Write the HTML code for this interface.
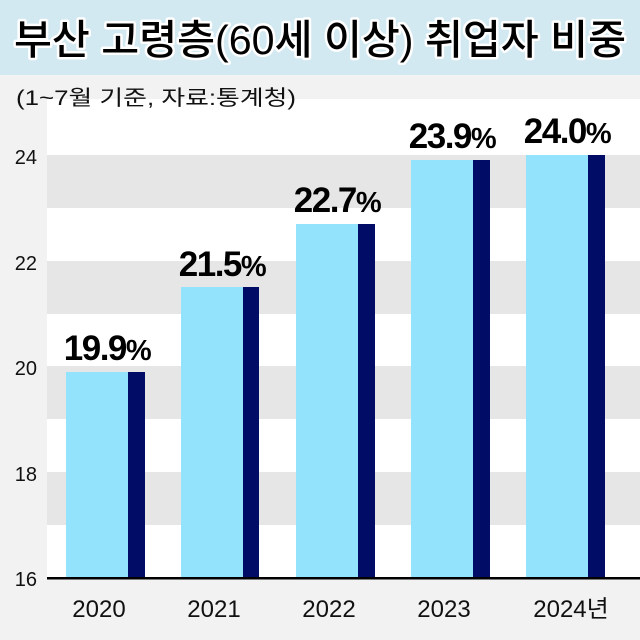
<!DOCTYPE html>
<html><head><meta charset="utf-8"><style>
html,body{margin:0;padding:0;background:#f2f2f2;}
svg{display:block;}
</style></head><body>
<svg width="640" height="640" xmlns="http://www.w3.org/2000/svg" font-family="'Liberation Sans','Noto Sans CJK KR',sans-serif">
<rect x="0" y="0" width="640" height="640" fill="#f2f2f2"/>
<rect x="0" y="0" width="640" height="75" fill="#d3e9f1"/>
<text x="14" y="54" font-size="41" font-weight="500" textLength="612" lengthAdjust="spacingAndGlyphs" fill="#000" stroke="#fff" stroke-width="5" paint-order="stroke" stroke-linejoin="round">부산 고령층(60세 이상) 취업자 비중</text>
<rect x="47" y="99" width="593" height="479" fill="#fff"/>
<text x="16" y="105" font-size="21" fill="#111" textLength="280" lengthAdjust="spacingAndGlyphs">(1~7월 기준,  자료:통계청)</text>
<g fill="#e6e6e6">
<rect x="47" y="155" width="593" height="53"/>
<rect x="47" y="261" width="593" height="53"/>
<rect x="47" y="366" width="593" height="53"/>
<rect x="47" y="472" width="593" height="53"/>
</g>
<g font-size="20" fill="#111" text-anchor="end">
<text x="37" y="164">24</text>
<text x="37" y="270">22</text>
<text x="37" y="375">20</text>
<text x="37" y="481">18</text>
<text x="37" y="586">16</text>
</g>
<g>
<rect x="66" y="372" width="62" height="206" fill="#94e3fd"/><rect x="128" y="372" width="17" height="206" fill="#000c66"/>
<rect x="181" y="287" width="62" height="291" fill="#94e3fd"/><rect x="243" y="287" width="16" height="291" fill="#000c66"/>
<rect x="296" y="224" width="62" height="354" fill="#94e3fd"/><rect x="358" y="224" width="17" height="354" fill="#000c66"/>
<rect x="411" y="160" width="62" height="418" fill="#94e3fd"/><rect x="473" y="160" width="17" height="418" fill="#000c66"/>
<rect x="526" y="155" width="62" height="423" fill="#94e3fd"/><rect x="588" y="155" width="17" height="423" fill="#000c66"/>
</g>
<rect x="47" y="577" width="593" height="2.5" fill="#000"/>
<g font-size="35" font-weight="bold" fill="#000" text-anchor="middle" letter-spacing="-1.5">
<text x="107" y="360">19.9<tspan font-size="29">%</tspan></text>
<text x="222" y="276">21.5<tspan font-size="29">%</tspan></text>
<text x="337" y="212">22.7<tspan font-size="29">%</tspan></text>
<text x="452" y="148">23.9<tspan font-size="29">%</tspan></text>
<text x="567" y="143">24.0<tspan font-size="29">%</tspan></text>
</g>
<g font-size="24" fill="#111" text-anchor="middle">
<text x="99" y="617">2020</text>
<text x="214" y="617">2021</text>
<text x="329" y="617">2022</text>
<text x="444" y="617">2023</text>
<text x="571" y="617">2024년</text>
</g>
</svg>
</body></html>
